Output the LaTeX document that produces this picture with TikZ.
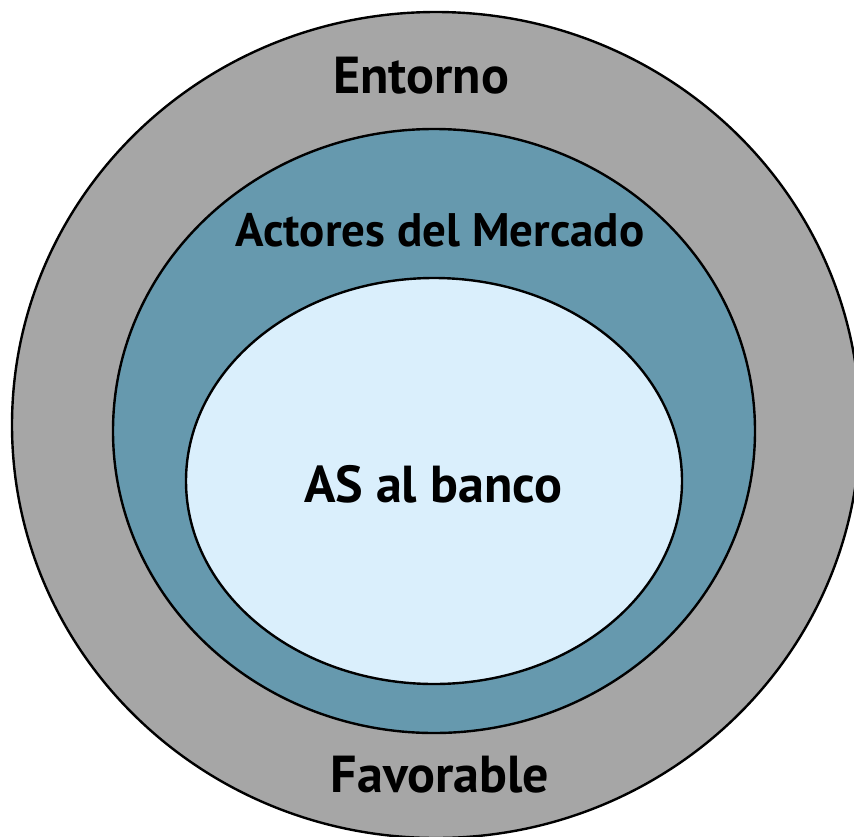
\documentclass[tikz,border=0pt]{standalone}
\usepackage{fontspec}
\setmainfont{PT Sans}
\definecolor{outergray}{RGB}{166,166,166}
\definecolor{midteal}{RGB}{102,153,174}
\definecolor{innerblue}{RGB}{218,239,252}
\begin{document}
\begin{tikzpicture}[x=1pt,y=-1pt,
  ring/.style={draw=black,line width=2.4pt},
  lbl/.style={font=\fontsize{52}{58}\selectfont\bfseries,text=black,inner sep=0pt},
  lblsmall/.style={font=\fontsize{47}{53}\selectfont\bfseries,text=black,inner sep=0pt}]
\useasboundingbox (0,0) rectangle (854,836);
\clip (0,0) rectangle (854,836);
\fill[white] (0,0) rectangle (854,836);
\draw[ring,fill=outergray] (436,425) ellipse [x radius=424,y radius=413];
\draw[ring,fill=midteal] (434,431) ellipse [x radius=321,y radius=302];
\draw[ring,fill=innerblue] (434,481) ellipse [x radius=248,y radius=203];
\node[lbl] (entorno) at (421,76) {Entorno};
\node[lblsmall] (actores) at (440,230) {Actores del Mercado};
\node[lbl] (as) at (433,484) {AS al banco};
\node[lbl] (fav) at (440,775) {Favorable};
\end{tikzpicture}
\end{document}
